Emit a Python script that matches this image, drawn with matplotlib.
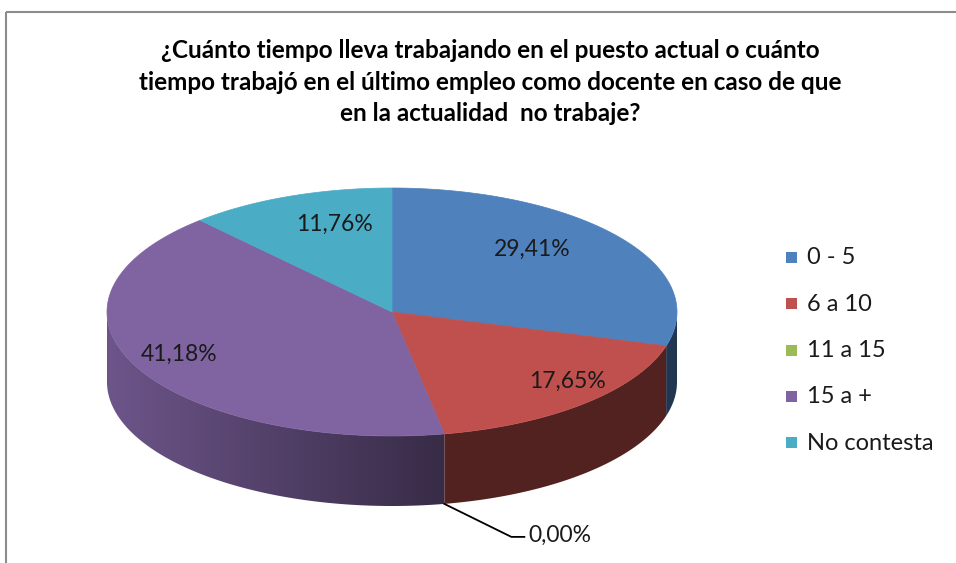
import numpy as np
import matplotlib.pyplot as plt
from matplotlib.patches import Polygon, Rectangle

# data
categories = ['0 - 5', '6 a 10', '11 a 15', '15 a +', 'No contesta']
values = [29.41, 17.65, 0.00, 41.18, 11.76]
colors = ['#4F81BD', '#C0504D', '#9BBB59', '#8064A2', '#4BACC6']
title = ('¿Cuánto tiempo lleva trabajando en el puesto actual o cuánto\n'
         'tiempo trabajó en el último empleo como docente en caso de que\n'
         'en la actualidad  no trabaje?')

# small nudges for the data labels (pixels), like Excel places them
label_nudge = [(-30, -7), (31, 1), (0, 0), (-22, 1), (20, -1)]

W, H = 956, 563
fig = plt.figure(figsize=(W / 100, H / 100), dpi=100)
ax = fig.add_axes([0, 0, 1, 1])

# chart frame
ax.add_patch(Rectangle((6, 12), 960, 600, fill=False, ec='#8c8c8c', lw=1.5))

ax.text(490, 82, title, ha='center', va='center', fontsize=17.5,
        fontweight='bold', family='Lato', linespacing=1.45, color='black')

# pie geometry (pixels)
cx, cy, rx, ry, depth = 392, 312, 285, 124, 70


def pt(theta, f=1.0, dz=0.0):
    return cx + rx * f * np.cos(theta), cy - ry * f * np.sin(theta) + dz


fracs = np.array(values) / sum(values)
bounds = np.radians(90 - 360 * np.concatenate([[0], np.cumsum(fracs)]))


def rgb(c):
    return np.array([int(c[i:i + 2], 16) / 255 for i in (1, 3, 5)])


# side walls (front half only) with a horizontal shading gradient
xs = np.linspace(cx - rx, cx + rx, 600)
k = 0.85 - 0.42 * np.clip(((xs - cx) / rx + 1) / 1.2, 0, 1)
for i, col in enumerate(colors):
    a0, a1 = bounds[i], bounds[i + 1]
    if a0 == a1:
        continue
    # keep the part of the arc that lies in the front (sin < 0)
    lo, hi = min(a0, a1), max(a0, a1)
    segs = []
    for base in (-2 * np.pi, 0):
        s0, s1 = max(lo, base - np.pi), min(hi, base)
        if s1 > s0:
            segs.append((s0, s1))
    for s0, s1 in segs:
        ts = np.linspace(s0, s1, 200)
        top = [pt(t) for t in ts]
        bot = [pt(t, dz=depth) for t in ts[::-1]]
        poly = Polygon(top + bot, closed=True, fc='none', ec='none')
        ax.add_patch(poly)
        img = (rgb(col)[None, None, :] * k[None, :, None]).clip(0, 1)
        im = ax.imshow(img, extent=(cx - rx, cx + rx, cy + ry + depth, cy - 5),
                       aspect='auto', interpolation='bilinear')
        im.set_clip_path(poly)

# top faces
for i, col in enumerate(colors):
    a0, a1 = bounds[i], bounds[i + 1]
    if a0 == a1:
        continue
    ts = np.linspace(a0, a1, 200)
    verts = [(cx, cy)] + [pt(t) for t in ts]
    ax.add_patch(Polygon(verts, closed=True, fc=col, ec=col, lw=0.5))

# data labels
for i, v in enumerate(values):
    mid = 0.5 * (bounds[i] + bounds[i + 1])
    lab = f'{v:.2f}%'.replace('.', ',')
    if v == 0:
        x0, y0 = pt(mid, dz=depth)
        ax.plot([x0, x0 + 67, x0 + 80], [y0, y0 + 33, y0 + 33],
                color='black', lw=1.3)
        ax.text(x0 + 84, y0 + 31, lab, ha='left', va='center',
                fontsize=16.5, family='Lato', color='#1a1a1a')
        continue
    x, y = pt(mid, 0.75)
    dx, dy = label_nudge[i]
    ax.text(x + dx, y + dy, lab, ha='center', va='center', fontsize=16.5,
            family='Lato', color='#1a1a1a')

# legend
for i, (name, col) in enumerate(zip(categories, colors)):
    ly = 258 + i * 46.3
    ax.add_patch(Rectangle((786, ly - 6), 11, 11, fc=col, ec='none'))
    ax.text(807, ly, name, ha='left', va='center', fontsize=17,
            family='Lato', color='#1a1a1a')

ax.set_xlim(0, W)
ax.set_ylim(H, 0)
ax.axis('off')
fig.savefig('out.png', dpi=100)
